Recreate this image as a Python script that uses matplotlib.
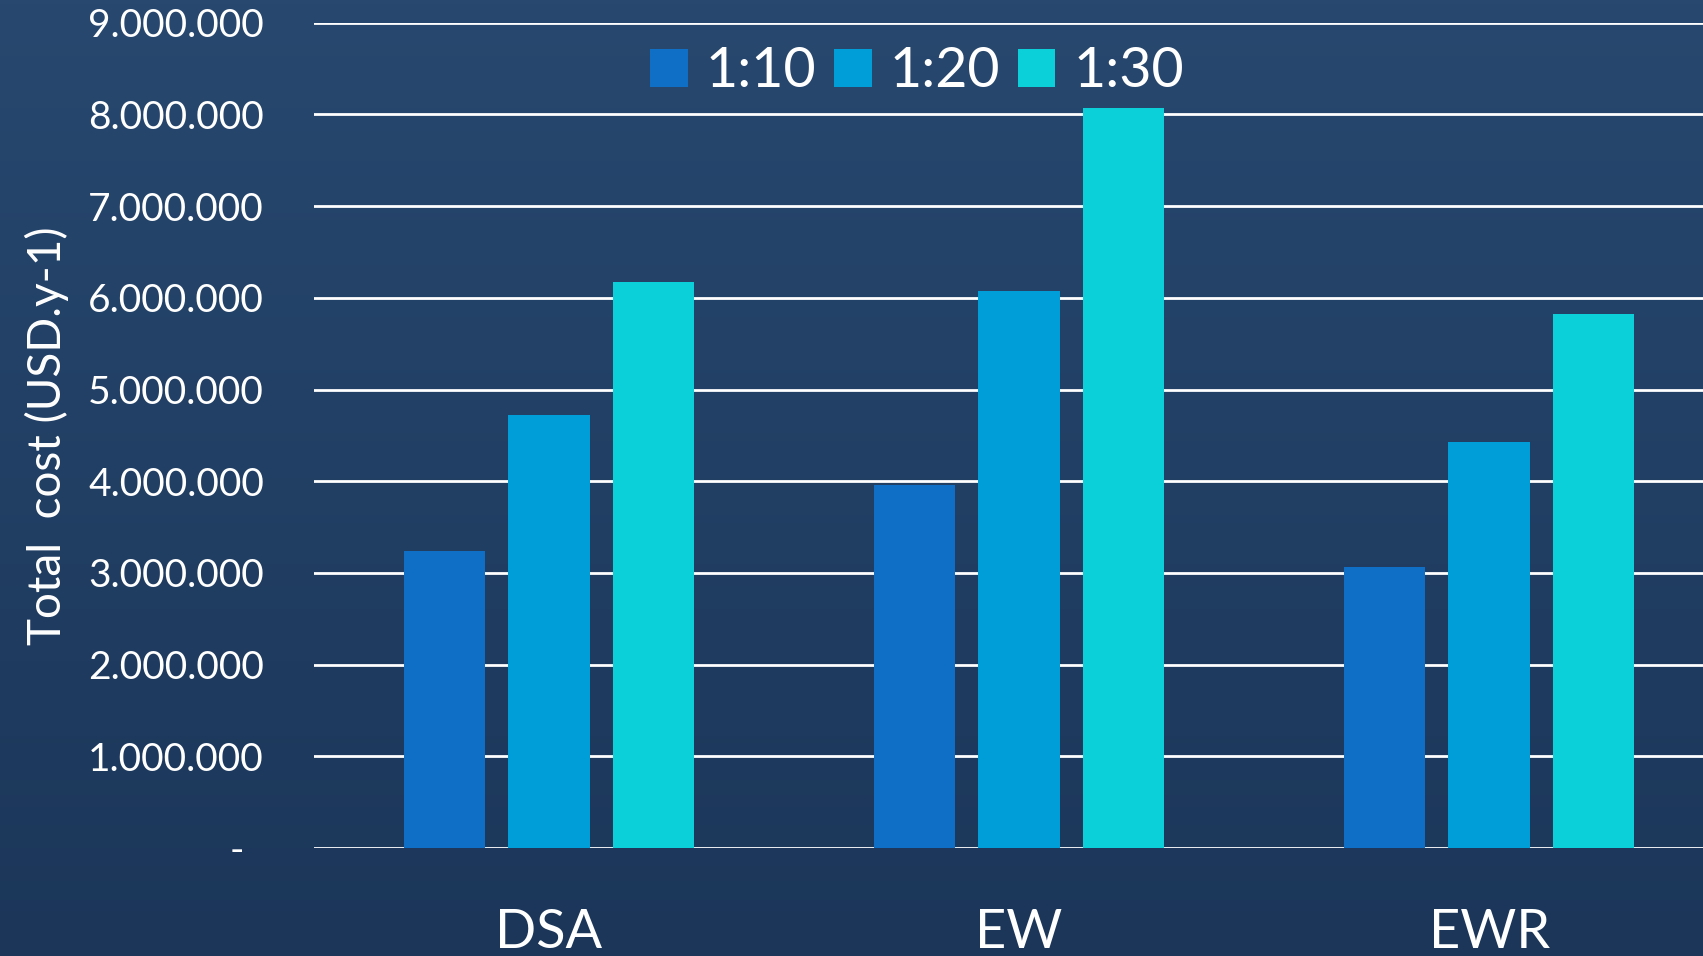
import matplotlib.pyplot as plt
import numpy as np
from matplotlib.colors import LinearSegmentedColormap
from matplotlib.ticker import FuncFormatter

plt.rcParams["font.family"] = ["Lato", "DejaVu Sans"]

categories = ["DSA", "EW", "EWR"]
ratios = ["1:10", "1:20", "1:30"]
cost_1_10 = [3_240_000, 3_960_000, 3_060_000]
cost_1_20 = [4_720_000, 6_080_000, 4_430_000]
cost_1_30 = [6_170_000, 8_070_000, 5_820_000]
colors = ["#0F6EC6", "#009ED8", "#0BD0D9"]


def thousands(v, _pos):
    # accounting style: zero shows as a dash, padded off the right edge
    if v == 0:
        return "-  "
    return f"{v:,.0f}".replace(",", ".")


fig = plt.figure(figsize=(17.03, 9.56), dpi=100)

# dark slate-blue backdrop, a touch lighter at the top
bg = fig.add_axes([0, 0, 1, 1], zorder=-5)
grad = np.linspace(0, 1, 256).reshape(-1, 1)
cmap = LinearSegmentedColormap.from_list("slate", ["#28486F", "#1B3659"])
bg.imshow(grad, aspect="auto", cmap=cmap, extent=[0, 1, 0, 1])
bg.axis("off")

ax = fig.add_axes([314 / 1703, 1 - 848 / 956, 1 - 314 / 1703, (848 - 22.8) / 956])
ax.patch.set_alpha(0)

x = np.arange(len(categories))
step, width = 0.222, 0.173
for i, (vals, lab) in enumerate(zip([cost_1_10, cost_1_20, cost_1_30], ratios)):
    ax.bar(x + (i - 1) * step, vals, width, color=colors[i], label=lab, zorder=3)

ax.set_xlim(-0.5, 2.455)
ax.set_ylim(0, 9_000_000)
ax.set_yticks(np.arange(0, 9_000_001, 1_000_000))
ax.yaxis.set_major_formatter(FuncFormatter(thousands))
ax.grid(axis="y", color="white", lw=2, zorder=1)
ax.set_axisbelow(True)
for s in ax.spines.values():
    s.set_visible(False)
ax.set_xticks(x)
ax.set_xticklabels(categories)
ax.tick_params(axis="x", length=0, pad=43, labelsize=39, labelcolor="white")
ax.tick_params(axis="y", length=0, pad=36, labelsize=28, labelcolor="white")
for t in ax.get_yticklabels():
    t.set_clip_on(False)

ax.set_ylabel("Total  cost (USD.y-1)", fontsize=33, color="white", labelpad=14)

leg = ax.legend(loc="upper center", bbox_to_anchor=(0.434, 1.012), ncol=3, frameon=False,
                fontsize=40, labelcolor="white", handlelength=0.68, handleheight=0.68,
                handletextpad=0.32, columnspacing=0.32, borderaxespad=0.2)

fig.savefig("out.png", dpi=100)
